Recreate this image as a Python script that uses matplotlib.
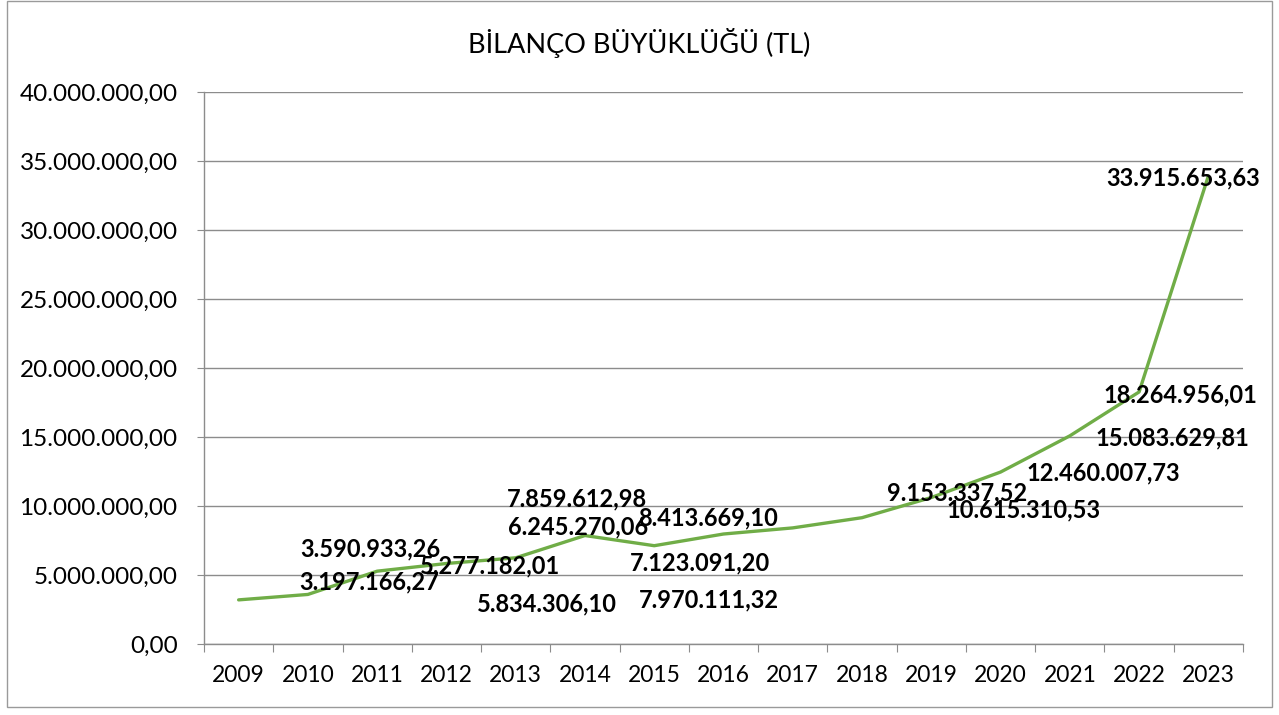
import matplotlib
matplotlib.use('Agg')
import matplotlib.pyplot as plt
from matplotlib.patches import Rectangle
from matplotlib.ticker import FuncFormatter, FixedLocator

years = ['2009', '2010', '2011', '2012', '2013', '2014', '2015', '2016',
         '2017', '2018', '2019', '2020', '2021', '2022', '2023']
values = [3197166.27, 3590933.26, 5277182.01, 5834306.10, 6245270.06,
          7859612.98, 7123091.20, 7970111.32, 8413669.10, 9153337.52,
          10615310.53, 12460007.73, 15083629.81, 18264956.01, 33915653.63]
# label offsets from each point, in pixels (labels were moved by hand)
label_offsets = [(131, 18), (62, 46), (113, 5), (101, -40), (62, 31),
                 (-8, 37), (46, -17), (-15, -66), (-85, 10), (95, 25),
                 (92, -12), (103, -1), (103, -2), (41, -3), (-25, -2)]

title = 'BİLANÇO BÜYÜKLÜĞÜ (TL)'
green = '#70AD47'
grid_gray = '#8c8c8c'


def tr_fmt(v, pos=None):
    s = f'{v:,.2f}'
    return s.replace(',', '#').replace('.', ',').replace('#', '.')


plt.rcParams['font.family'] = ['Lato', 'DejaVu Sans']

fig = plt.figure(figsize=(12.79, 7.15), dpi=100)
ax = fig.add_axes([204 / 1279, 1 - 644 / 715, (1243 - 204) / 1279, (644 - 92) / 715])

xs = [i + 0.5 for i in range(len(years))]
ax.plot(xs, values, color=green, lw=2.4, solid_capstyle='round', zorder=3)

for x, v, (dx, dy) in zip(xs, values, label_offsets):
    ax.annotate(tr_fmt(v), (x, v), xytext=(dx, dy), textcoords='offset pixels',
                ha='center', va='center', fontsize=17, fontweight='bold',
                color='black', zorder=4)

ax.set_xlim(0, len(years))
ax.set_ylim(0, 40000000)
ax.yaxis.set_major_locator(FixedLocator(range(0, 40000001, 5000000)))
ax.yaxis.set_major_formatter(FuncFormatter(tr_fmt))

ax.xaxis.set_major_locator(FixedLocator(range(len(years) + 1)))
ax.xaxis.set_major_formatter(FuncFormatter(lambda v, p: ''))
ax.xaxis.set_minor_locator(FixedLocator(xs))
ax.set_xticklabels(years, minor=True)

ax.grid(axis='y', color=grid_gray, lw=1.0)
ax.set_axisbelow(True)
for side in ['top', 'right']:
    ax.spines[side].set_visible(False)
for side in ['left', 'bottom']:
    ax.spines[side].set_color(grid_gray)
    ax.spines[side].set_linewidth(1.0)

ax.tick_params(axis='y', which='major', length=5, color=grid_gray, pad=14,
               labelsize=17.5, labelcolor='black')
ax.tick_params(axis='x', which='major', length=6, color=grid_gray)
ax.tick_params(axis='x', which='minor', length=0, pad=15, labelsize=16.5,
               labelcolor='black')

fig.text(0.5, 1 - 43 / 715, title, ha='center', va='center', fontsize=19.5)

fig.patches.append(Rectangle((7 / 1279, 1 - 707 / 715), (1272 - 7) / 1279,
                             (707 - 1) / 715, transform=fig.transFigure,
                             fill=False, edgecolor='#9a9a9a', lw=1.0))

fig.savefig('out.png', dpi=100)
